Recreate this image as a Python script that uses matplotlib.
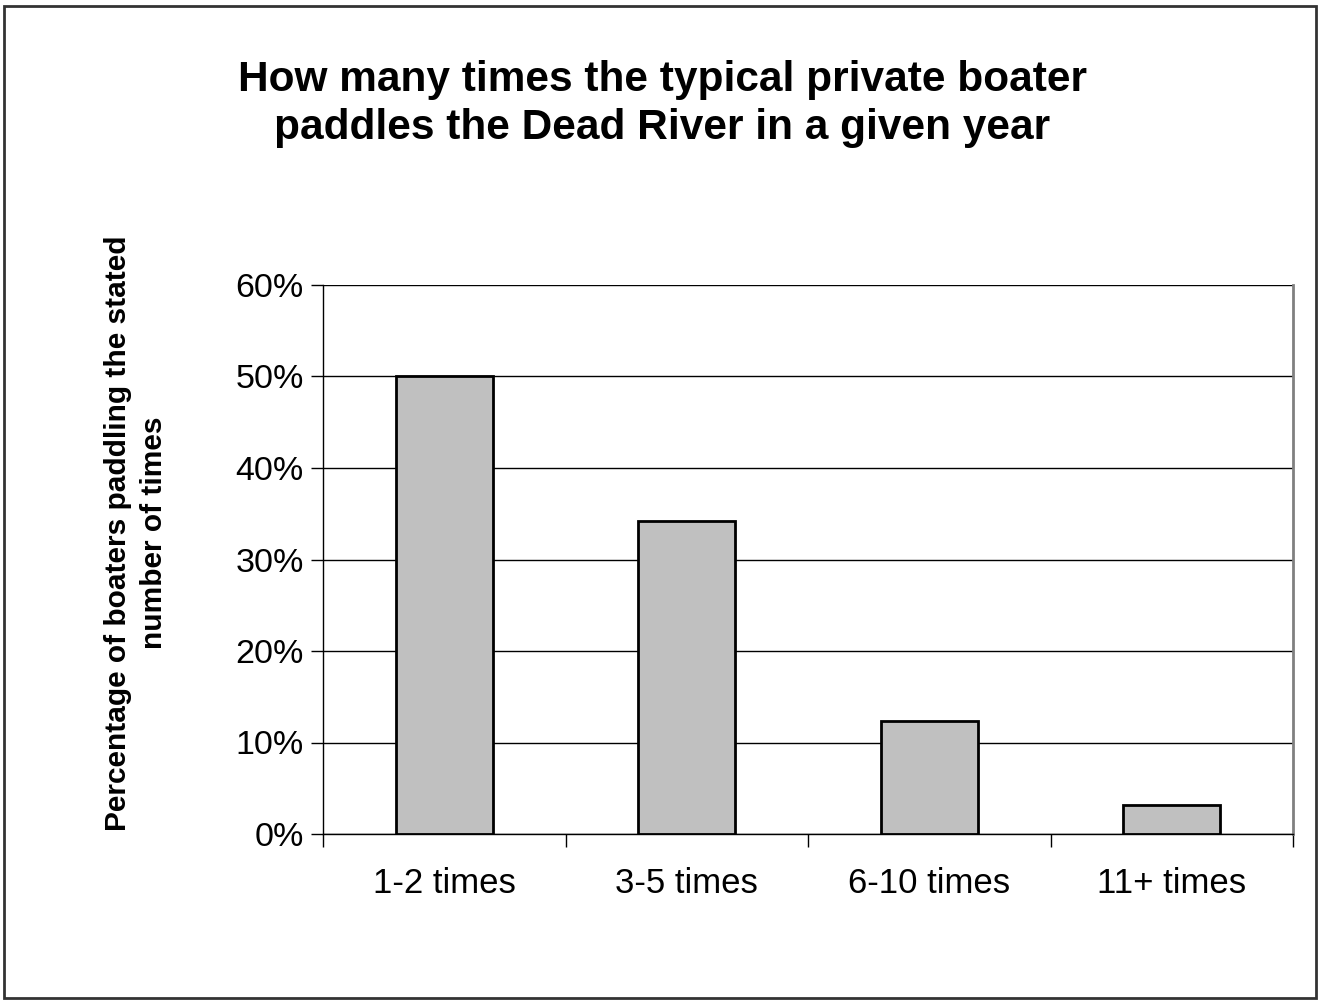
import matplotlib
matplotlib.use("Agg")
import matplotlib.pyplot as plt
from matplotlib.patches import Rectangle
from matplotlib.ticker import PercentFormatter

categories = ["1-2 times", "3-5 times", "6-10 times", "11+ times"]
percent = [50.0, 34.2, 12.3, 3.2]

plt.rcParams['font.family'] = ['Liberation Sans', 'DejaVu Sans']

fig = plt.figure(figsize=(13.18, 10), dpi=100)
# outer border of the chart
fig.patches.append(Rectangle((4 / 1318, 0.002), 1312 / 1318, 0.992, transform=fig.transFigure,
                             fill=False, edgecolor='#333333', linewidth=2))

ax = fig.add_axes([0.2451, 0.166, 0.736, 0.549])
x = range(len(categories))
ax.bar(x, percent, width=0.4, color='#c0c0c0', edgecolor='black', linewidth=2, zorder=3)

ax.set_xlim(-0.5, len(categories) - 0.5)
ax.set_ylim(0, 60)
ax.set_yticks(range(0, 61, 10))
ax.yaxis.set_major_formatter(PercentFormatter(decimals=0))
ax.yaxis.grid(True, color='black', linewidth=1)
ax.set_axisbelow(True)

ax.set_xticks(x)
ax.set_xticklabels(categories, fontsize=25)
ax.set_xticks([i - 0.5 for i in range(len(categories) + 1)], minor=True)
ax.tick_params(axis='x', which='major', length=0, pad=24)
ax.tick_params(axis='x', which='minor', length=9, width=1, direction='out')
ax.tick_params(axis='y', labelsize=24.5, length=9, width=1, direction='out', pad=5)

ax.spines['top'].set_visible(False)
ax.spines['right'].set_color('#808080')
ax.spines['right'].set_linewidth(2)
for s in ['left', 'bottom']:
    ax.spines[s].set_linewidth(1)

fig.text(0.5025, 0.896, "How many times the typical private boater\npaddles the Dead River in a given year",
         ha='center', va='center', fontsize=30.5, fontweight='bold', linespacing=1.25)
fig.text(0.103, 0.467, "Percentage of boaters paddling the stated\nnumber of times",
         ha='center', va='center', rotation=90, fontsize=21.5, fontweight='bold', linespacing=1.35)

fig.savefig("out.png", dpi=100)
